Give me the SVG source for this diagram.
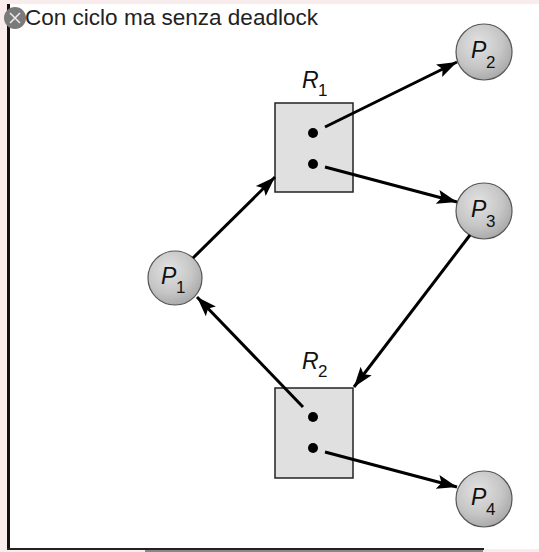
<svg xmlns="http://www.w3.org/2000/svg" width="539" height="552" viewBox="0 0 539 552">
  <defs>
    <radialGradient id="ball" cx="0.4" cy="0.35" r="0.7">
      <stop offset="0" stop-color="#e2e2e2"/>
      <stop offset="0.6" stop-color="#c6c6c6"/>
      <stop offset="1" stop-color="#a6a6a6"/>
    </radialGradient>
    <marker id="arrow" markerUnits="userSpaceOnUse" markerWidth="22" markerHeight="16" viewBox="0 0 22 16" refX="20" refY="8" orient="auto">
      <path d="M0,1 L20,8 L0,15 L4,8 Z" fill="#000"/>
    </marker>
    <style>
      .proc { fill: url(#ball); stroke: #555; stroke-width: 1.2; }
      .res { fill: #e0e0e0; stroke: #222; stroke-width: 1.5; }
      .dot { fill: #000; }
      .lbl { font-family: "Liberation Sans", Arial, sans-serif; font-style: italic; font-size: 23px; fill: #111; }
      .sub { font-family: "Liberation Sans", Arial, sans-serif; font-size: 17px; fill: #111; }
      .edge { stroke: #000; stroke-width: 3; fill: none; marker-end: url(#arrow); }
      .title { font-family: "Liberation Sans", Arial, sans-serif; font-size: 22px; fill: #222; }
    </style>
  </defs>

  <!-- frame -->
  <rect x="0" y="0" width="539" height="552" fill="#f8ecec"/>
  <rect x="9" y="4" width="530" height="545" fill="#ffffff"/>
  <rect x="7" y="4" width="3" height="546" fill="#111"/>
  <rect x="7" y="548" width="477" height="2" fill="#222"/>
  <rect x="145" y="550" width="338" height="2" fill="#888"/>

  <!-- close icon and title -->
  <g id="close-icon">
    <circle cx="15" cy="18" r="11" fill="#7a7a7a"/>
    <path d="M10,13 L20,23 M20,13 L10,23" stroke="#e8e8e8" stroke-width="1.6"/>
  </g>
  <text class="title" x="25" y="25" textLength="293" lengthAdjust="spacingAndGlyphs">Con ciclo ma senza deadlock</text>

  <g id="R1">
    <rect class="res" x="275" y="103" width="78" height="89"/>
    <circle class="dot" cx="313" cy="133" r="5"/>
    <circle class="dot" cx="313" cy="164" r="5"/>
    <text class="lbl" x="302" y="88">R</text>
    <text class="sub" x="318" y="96">1</text>
  </g>

  <g id="R2">
    <rect class="res" x="275" y="388" width="78" height="90"/>
    <circle class="dot" cx="313" cy="417" r="5"/>
    <circle class="dot" cx="313" cy="448" r="5"/>
    <text class="lbl" x="302" y="369">R</text>
    <text class="sub" x="318" y="377">2</text>
  </g>

  <g id="P1">
    <circle class="proc" cx="175" cy="278" r="27"/>
    <text class="lbl" x="161" y="284">P</text>
    <text class="sub" x="176" y="293">1</text>
  </g>

  <g id="P2">
    <circle class="proc" cx="484" cy="52" r="28"/>
    <text class="lbl" x="471" y="58">P</text>
    <text class="sub" x="486" y="68">2</text>
  </g>

  <g id="P3">
    <circle class="proc" cx="484" cy="211" r="28"/>
    <text class="lbl" x="471" y="217">P</text>
    <text class="sub" x="486" y="227">3</text>
  </g>

  <g id="P4">
    <circle class="proc" cx="484" cy="499" r="28"/>
    <text class="lbl" x="471" y="505">P</text>
    <text class="sub" x="486" y="515">4</text>
  </g>

  <g id="connectors">
    <line class="edge" x1="193" y1="258" x2="275" y2="177"/>
    <line class="edge" x1="325" y1="127" x2="457" y2="62"/>
    <line class="edge" x1="325" y1="167" x2="457" y2="202"/>
    <line class="edge" x1="470" y1="235" x2="354" y2="387"/>
    <line class="edge" x1="303" y1="407" x2="197" y2="297"/>
    <line class="edge" x1="325" y1="452" x2="457" y2="487"/>
  </g>
</svg>
